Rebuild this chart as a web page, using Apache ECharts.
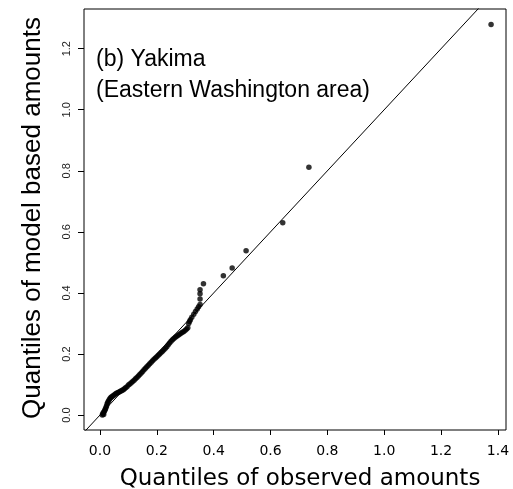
<!DOCTYPE html>
<html>
<head>
<meta charset="utf-8">
<script src="https://cdn.jsdelivr.net/npm/echarts@6/dist/echarts.min.js"></script>
<style>
html,body{margin:0;padding:0;background:#fff;}
#chart{width:513px;height:489px;}
</style>
</head>
<body>
<div id="chart"></div>
<script>
// Quantiles of observed amounts (x)
const observed = [0.008,0.010,0.012,0.013,0.015,0.017,0.019,0.021,0.023,0.025,0.027,0.030,
  0.033,0.036,0.039,0.042,
  0.046,0.050,0.054,0.058,0.062,0.066,0.070,0.074,0.078,0.082,0.086,0.090,
  0.095,0.100,0.105,0.110,0.115,0.120,0.125,0.130,0.135,0.140,0.145,0.150,0.155,0.160,0.165,0.170,
  0.175,0.180,0.185,0.190,0.195,0.200,0.205,0.210,0.215,0.220,0.225,0.230,0.235,0.240,0.245,0.250,
  0.255,0.260,0.265,0.270,0.275,0.280,0.285,0.290,0.295,0.300,
  0.305,0.309,0.312,0.315,0.318,0.323,0.330,0.336,0.342,0.347,
  0.352,0.352,0.352,0.352,
  0.364,0.434,0.465,0.514,0.643,0.735,1.376];
// Quantiles of model based amounts (y)
const modelBased = [0.000,0.004,0.008,0.002,0.012,0.016,0.020,0.025,0.030,0.036,0.041,0.046,
  0.051,0.055,0.058,0.060,
  0.063,0.066,0.069,0.071,0.073,0.075,0.077,0.079,0.081,0.083,0.086,0.089,
  0.093,0.098,0.102,0.106,0.110,0.114,0.119,0.123,0.128,0.133,0.138,0.143,0.148,0.153,0.158,0.163,
  0.168,0.173,0.178,0.183,0.187,0.191,0.196,0.200,0.205,0.209,0.214,0.219,0.224,0.230,0.236,0.242,
  0.247,0.251,0.255,0.258,0.261,0.265,0.268,0.271,0.274,0.278,
  0.282,0.286,0.300,0.306,0.312,0.320,0.330,0.339,0.347,0.355,
  0.362,0.380,0.397,0.410,
  0.430,0.456,0.482,0.538,0.630,0.812,1.279];
// Reference line y = x (end points, clipped to plot area)
const refLine = [-0.2, 1.6];
const xTicks = [0.0,0.2,0.4,0.6,0.8,1.0,1.2,1.4];
const yTicks = [0.0,0.2,0.4,0.6,0.8,1.0,1.2];
const panelTitle = "(b) Yakima\n(Eastern Washington area)";

const chart = echarts.init(document.getElementById('chart'), null, {renderer:'canvas'});
const pts = observed.map((v,i)=>[v, modelBased[i]]);
const option = {
  animation:false,
  backgroundColor:'#fff',
  grid:{left:84, right:7, top:9, bottom:59, show:true, borderColor:'#000', borderWidth:1,
        backgroundColor:'transparent', containLabel:false, outerBoundsMode:'none'},
  xAxis:{
    type:'value', min:-0.0563, max:1.4285,
    name:'Quantiles of observed amounts', nameLocation:'middle', nameGap:38,
    nameTextStyle:{fontFamily:'DejaVu Sans', fontSize:23, color:'#000', padding:[0,0,0,10]},
    axisLine:{show:false, onZero:false},
    splitLine:{show:false},
    axisTick:{show:true, customValues:xTicks, length:5, lineStyle:{color:'#000', width:1}},
    axisLabel:{customValues:xTicks, formatter:v=>v.toFixed(1), fontFamily:'DejaVu Sans', fontSize:14, color:'#000', margin:14}
  },
  yAxis:{
    type:'value', min:-0.049, max:1.330,
    name:'Quantiles of model based amounts', nameLocation:'middle', nameGap:38,
    nameTextStyle:{fontFamily:'Liberation Sans', fontSize:26, color:'#000', padding:[0,0,0,3]},
    axisLine:{show:false, onZero:false},
    splitLine:{show:false},
    axisTick:{show:true, customValues:yTicks, length:6, lineStyle:{color:'#000', width:1}},
    axisLabel:{customValues:yTicks, formatter:v=>v.toFixed(1), rotate:90, fontFamily:'Liberation Sans', fontSize:11, color:'#222', margin:12}
  },
  graphic:[{
    type:'text', left:96, top:44,
    style:{text:panelTitle, fontFamily:'Liberation Sans', fontSize:23, lineHeight:31, fill:'#000'}
  }],
  series:[
    {type:'line', data:refLine.map(v=>[v,v]), symbol:'none', clip:true,
     lineStyle:{color:'#000', width:1}, silent:true},
    {type:'scatter', data:pts, symbol:'circle', symbolSize:5.5, clip:false,
     itemStyle:{color:'#000'}, silent:true}
  ]
};
chart.setOption(option);
</script>
</body>
</html>
